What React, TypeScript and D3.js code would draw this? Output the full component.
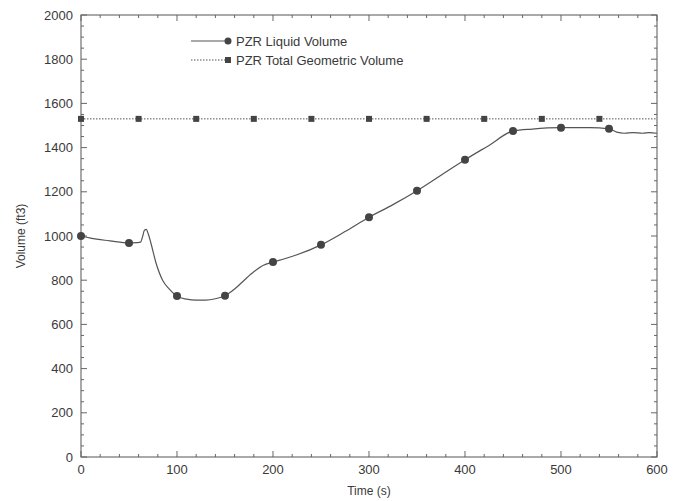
import React, { useEffect, useRef } from "react";
import * as d3 from "d3";

// PZR liquid volume trace (time s, volume ft3)
const liquidTime = [0, 10, 30, 50, 58, 62, 64, 66, 68, 70, 73, 78, 85, 92, 100, 110, 120, 130, 140, 150, 160, 170, 180, 190, 200, 212, 225, 250, 275, 300, 325, 350, 375, 400, 425, 450, 470, 500, 530, 550, 558, 566, 575, 585, 592, 600];
const liquidVol = [1000, 990, 978, 968, 970, 972, 995, 1025, 1030, 1010, 965, 880, 800, 760, 728, 714, 710, 710, 716, 730, 760, 800, 838, 868, 882, 897, 915, 960, 1020, 1085, 1142, 1205, 1275, 1345, 1410, 1475, 1484, 1490, 1490, 1485, 1470, 1465, 1468, 1465, 1468, 1465];
const liquidMarkT = [0, 50, 100, 150, 200, 250, 300, 350, 400, 450, 500, 550];
const liquidMarkV = [1000, 968, 728, 730, 882, 960, 1085, 1205, 1345, 1475, 1490, 1485];

const totalVolume = 1530;
const totalMarkT = [0, 60, 120, 180, 240, 300, 360, 420, 480, 540];

const xTicks = [0, 100, 200, 300, 400, 500, 600];
const yTicks = [0, 200, 400, 600, 800, 1000, 1200, 1400, 1600, 1800, 2000];
const legendLabels = ["PZR Liquid Volume", "PZR Total Geometric Volume"];

const App = () => {
  const ref = useRef<SVGSVGElement>(null);

  useEffect(() => {
    const svg = d3.select(ref.current);
    svg.selectAll("*").remove();

    const left = 81, right = 657, top = 15, bottom = 457;
    const x = d3.scaleLinear().domain([0, 600]).range([left, right]);
    const y = d3.scaleLinear().domain([0, 2000]).range([bottom, top]);
    const font = "Liberation Sans, Arial, sans-serif";
    const ink = "#3a3a3a";

    // frame
    svg.append("rect")
      .attr("x", left).attr("y", top)
      .attr("width", right - left).attr("height", bottom - top)
      .attr("fill", "none").attr("stroke", "#555").attr("stroke-width", 1);

    // inward ticks on all sides
    const g = svg.append("g").attr("stroke", "#666").attr("stroke-width", 1);
    d3.range(0, 601, 20).forEach(t => {
      const len = t % 100 === 0 ? 6 : 3;
      g.append("line").attr("x1", x(t)).attr("x2", x(t)).attr("y1", bottom).attr("y2", bottom - len);
      g.append("line").attr("x1", x(t)).attr("x2", x(t)).attr("y1", top).attr("y2", top + len);
    });
    d3.range(0, 2001, 50).forEach(v => {
      const len = v % 200 === 0 ? 6 : 3;
      g.append("line").attr("y1", y(v)).attr("y2", y(v)).attr("x1", left).attr("x2", left + len);
      g.append("line").attr("y1", y(v)).attr("y2", y(v)).attr("x1", right).attr("x2", right - len);
    });

    // tick labels
    svg.append("g").selectAll("text").data(xTicks).enter().append("text")
      .attr("x", d => x(d)).attr("y", bottom + 17)
      .attr("text-anchor", "middle")
      .attr("font-family", font).attr("font-size", 13).attr("fill", ink)
      .text(d => d);
    svg.append("g").selectAll("text").data(yTicks).enter().append("text")
      .attr("x", left - 8).attr("y", d => y(d) + 4.5)
      .attr("text-anchor", "end")
      .attr("font-family", font).attr("font-size", 13).attr("fill", ink)
      .text(d => d);

    // axis titles
    svg.append("text")
      .attr("x", (left + right) / 2).attr("y", 495)
      .attr("text-anchor", "middle")
      .attr("font-family", font).attr("font-size", 12).attr("fill", ink)
      .text("Time (s)");
    svg.append("text")
      .attr("transform", `translate(25, ${(top + bottom) / 2}) rotate(-90)`)
      .attr("text-anchor", "middle")
      .attr("font-family", font).attr("font-size", 12).attr("fill", ink)
      .text("Volume (ft3)");

    // total geometric volume
    svg.append("line")
      .attr("x1", x(0)).attr("x2", x(600))
      .attr("y1", y(totalVolume)).attr("y2", y(totalVolume))
      .attr("stroke", "#555").attr("stroke-width", 1).attr("stroke-dasharray", "1.5,1.5");
    svg.append("g").selectAll("rect").data(totalMarkT).enter().append("rect")
      .attr("x", d => x(d) - 3).attr("y", y(totalVolume) - 3)
      .attr("width", 6).attr("height", 6).attr("fill", "#444");

    // liquid volume
    const pts = liquidTime.map((t, i) => [t, liquidVol[i]] as [number, number]);
    const line = d3.line<[number, number]>()
      .x(d => x(d[0])).y(d => y(d[1]))
      .curve(d3.curveMonotoneX);
    svg.append("path")
      .attr("d", line(pts))
      .attr("fill", "none").attr("stroke", "#555").attr("stroke-width", 1.2);
    svg.append("g").selectAll("circle").data(liquidMarkT).enter().append("circle")
      .attr("cx", d => x(d)).attr("cy", (d, i) => y(liquidMarkV[i]))
      .attr("r", 4).attr("fill", "#444");

    // legend
    const lg = svg.append("g");
    const lx0 = 191, lx1 = 228, ly = [41, 60];
    lg.append("line").attr("x1", lx0).attr("x2", lx1).attr("y1", ly[0]).attr("y2", ly[0])
      .attr("stroke", "#555").attr("stroke-width", 1.2);
    lg.append("circle").attr("cx", lx1).attr("cy", ly[0]).attr("r", 3.5).attr("fill", "#444");
    lg.append("line").attr("x1", lx0).attr("x2", lx1).attr("y1", ly[1]).attr("y2", ly[1])
      .attr("stroke", "#555").attr("stroke-width", 1).attr("stroke-dasharray", "1.5,1.5");
    lg.append("rect").attr("x", lx1 - 3).attr("y", ly[1] - 3).attr("width", 6).attr("height", 6).attr("fill", "#444");
    legendLabels.forEach((s, i) => {
      lg.append("text")
        .attr("x", 236).attr("y", ly[i] + 4.5)
        .attr("font-family", font).attr("font-size", 13).attr("fill", ink)
        .text(s);
    });
  }, []);

  return (
    <svg ref={ref} width={674} height={501}
      style={{ position: "absolute", left: 0, top: 0, background: "#fff" }} />
  );
};

export default App;
